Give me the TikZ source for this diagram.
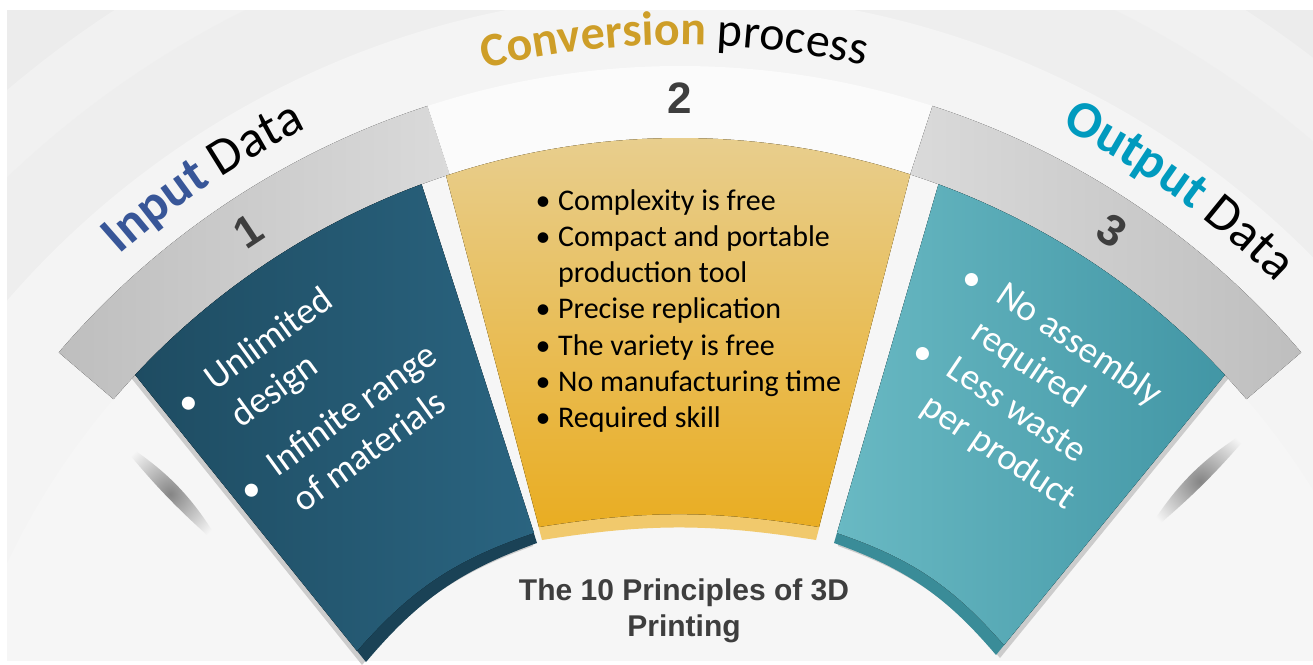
\documentclass[tikz,border=0pt]{standalone}
\usepackage{fontspec}
\setmainfont{Carlito}
\newfontfamily\arialfont{Liberation Sans}
\usetikzlibrary{decorations.text}

\definecolor{inputblue}{RGB}{56,86,152}
\definecolor{convgold}{RGB}{206,158,40}
\definecolor{outteal}{RGB}{0,154,190}
\definecolor{numgray}{RGB}{62,62,62}
\definecolor{bggray}{RGB}{236,236,236}
\definecolor{innergray}{RGB}{246,246,246}
\definecolor{bandgray}{RGB}{190,190,190}
\definecolor{bandlight}{RGB}{218,218,218}
\definecolor{blueleft}{RGB}{30,76,98}
\definecolor{blueright}{RGB}{42,100,128}
\definecolor{blueedge}{RGB}{26,66,86}
\definecolor{goldtop}{RGB}{232,207,145}
\definecolor{goldbottom}{RGB}{233,173,34}
\definecolor{goldedge}{RGB}{241,201,108}
\definecolor{tealleft}{RGB}{105,185,195}
\definecolor{tealright}{RGB}{66,150,165}
\definecolor{tealedge}{RGB}{58,140,152}

\newcommand\titlesize{\fontsize{52}{60}\selectfont}
\newcommand\convsize{\fontsize{48}{56}\selectfont}

% card outlines: top on the r=745 circle, bottom corners as arguments
\newcommand\bluepath[2]{([shift={(137:745)}]680,-883) arc[start angle=137, end angle=110.3, radius=745] -- #1 to[bend right=15] #2 -- cycle}
\newcommand\goldpath[2]{([shift={(108.3:745)}]680,-883) arc[start angle=108.3, end angle=72, radius=745] -- #1 to[bend right=9] #2 -- cycle}
\newcommand\tealpath[2]{([shift={(69.7:745)}]680,-883) arc[start angle=69.7, end angle=43, radius=745] -- #1 to[bend right=15] #2 -- cycle}

\tikzset{
  panelshadow/.style={fill=black!20},
  swoosh/.style={inner color=black!48, outer color=innergray},
}

\begin{document}
\begin{tikzpicture}[x=1pt,y=1pt]
  \useasboundingbox (0,0) rectangle (1313,-664);
  \coordinate (C) at (680,-883);

  % background and soft rings
  \begin{scope}
    \clip (7,-10) rectangle (1313,-660);
    \fill[bggray] (7,-10) rectangle (1313,-660);
    \fill[white!94.5!black] (C) circle[radius=1040];
    \fill[white!93.5!black] (C) circle[radius=975];
    \fill[white!95.5!black] (C) circle[radius=890];
    \fill[innergray] (C) circle[radius=745];
  \end{scope}

  % shadows along the outer card edges
  \begin{scope}[xshift=-4,yshift=-3]
    \fill[panelshadow] \bluepath{(537,-543)}{(366,-662)};
  \end{scope}
  \begin{scope}[xshift=4,yshift=-3]
    \fill[panelshadow] \tealpath{(996,-655)}{(834,-543)};
  \end{scope}

  % the band above the cards
  \fill[left color=bandgray, right color=bandlight]
    ([shift={(139.5:817)}]680,-883) arc[start angle=139.5, end angle=108, radius=817]
    -- ([shift={(108:745)}]680,-883) arc[start angle=108, end angle=139.5, radius=745] -- cycle;
  \fill[white!98.5!black]
    ([shift={(108:817)}]680,-883) arc[start angle=108, end angle=72, radius=817]
    -- ([shift={(72:745)}]680,-883) arc[start angle=72, end angle=108, radius=745] -- cycle;
  \fill[left color=bandlight, right color=bandgray]
    ([shift={(72:817)}]680,-883) arc[start angle=72, end angle=40.5, radius=817]
    -- ([shift={(40.5:745)}]680,-883) arc[start angle=40.5, end angle=72, radius=745] -- cycle;

  \shade[swoosh] (116,-438) to[bend left=14] (224,-550) to[bend left=5] (116,-438);
  \shade[swoosh] (1257,-425) to[bend left=5] (1143,-538) to[bend left=14] (1257,-425);

  % cards
  \fill[blueedge] \bluepath{(537,-543)}{(366,-662)};
  \fill[left color=blueleft, right color=blueright] \bluepath{(534,-533)}{(357,-651)};
  \fill[goldedge] \goldpath{(816,-540)}{(542,-540)};
  \fill[top color=goldtop, bottom color=goldbottom] \goldpath{(819,-527)}{(539,-527)};
  \fill[tealedge] \tealpath{(996,-655)}{(834,-543)};
  \fill[left color=tealleft, right color=tealright] \tealpath{(1004,-645)}{(837,-533)};

  % titles on the arc
  \path[decorate, decoration={text along path, text align=center,
      text={|\titlesize\bfseries\color{inputblue}|Input |\titlesize\color{black}|Data}}]
    ([shift={(141:842)}]680,-883) arc[start angle=141, end angle=107, radius=842];
  \path[decorate, decoration={text along path, text align=center,
      text={|\convsize\bfseries\color{convgold}|Conversion |\convsize\color{black}|process}}]
    ([shift={(110.4:838)}]680,-883) arc[start angle=110.4, end angle=70.4, radius=838];
  \path[decorate, decoration={text along path, text align=center,
      text={|\titlesize\bfseries\color{outteal}|Output |\titlesize\color{black}|Data}}]
    ([shift={(72.2:846)}]680,-883) arc[start angle=72.2, end angle=36.2, radius=846];

  \begin{scope}[every node/.style={text=numgray, font=\arialfont\bfseries\fontsize{44}{44}\selectfont}]
    \node[rotate=33.5]  (n1) at ([shift={(123.5:782)}]C) {1};
    \node               (n2) at ([shift={(90:785)}]C)    {2};
    \node[rotate=-33.5] (n3) at ([shift={(56.5:782)}]C)  {3};
  \end{scope}

  % input card
  \begin{scope}[shift={(215,-392)}, rotate=36, transform shape,
      every node/.style={anchor=base west, inner sep=0pt, text=white, font=\fontsize{37}{44}\selectfont}]
    \node (in1) at (0,0)    {Unlimited};
    \node (in2) at (0,-45)  {design};
    \node (in3) at (0,-106) {Infinite range};
    \node (in4) at (0,-150) {of materials};
    \node[anchor=base] (inb1) at (-28,-4)   {\textbullet};
    \node[anchor=base] (inb2) at (-28,-112) {\textbullet};
  \end{scope}

  % conversion card
  \begin{scope}[every node/.style={anchor=base west, inner sep=0pt, font=\fontsize{30}{36}\selectfont}]
    \node (cv1) at (558,-210)   {Complexity is free};
    \node (cv2) at (558,-246.3) {Compact and portable};
    \node (cv3) at (558,-282.6) {production tool};
    \node (cv4) at (558,-318.9) {Precise replication};
    \node (cv5) at (558,-355.2) {The variety is free};
    \node (cv6) at (558,-391.5) {No manufacturing time};
    \node (cv7) at (558,-427.8) {Required skill};
  \end{scope}
  \begin{scope}[every node/.style={anchor=base, inner sep=0pt, font=\fontsize{30}{36}\selectfont}]
    \node (cvb1) at (543,-210)   {\textbullet};
    \node (cvb2) at (543,-246.3) {\textbullet};
    \node (cvb4) at (543,-318.9) {\textbullet};
    \node (cvb5) at (543,-355.2) {\textbullet};
    \node (cvb6) at (543,-391.5) {\textbullet};
    \node (cvb7) at (543,-427.8) {\textbullet};
  \end{scope}

  % output card
  \begin{scope}[shift={(994,-300)}, rotate=-34, transform shape,
      every node/.style={anchor=base west, inner sep=0pt, text=white, font=\fontsize{37}{44}\selectfont}]
    \node (out1) at (0,0)      {No assembly};
    \node (out2) at (0,-44.6)  {required};
    \node (out3) at (0,-89.3)  {Less waste};
    \node (out4) at (0,-134)   {per product};
    \node[anchor=base] (outb1) at (-29,-6)  {\textbullet};
    \node[anchor=base] (outb2) at (-29,-95) {\textbullet};
  \end{scope}

  \begin{scope}[every node/.style={anchor=base, inner sep=0pt, text=numgray, font=\arialfont\bfseries\fontsize{30}{36}\selectfont}]
    \node (cap1) at (684,-600) {The 10 Principles of 3D};
    \node (cap2) at (684,-636) {Printing};
  \end{scope}
\end{tikzpicture}
\end{document}
